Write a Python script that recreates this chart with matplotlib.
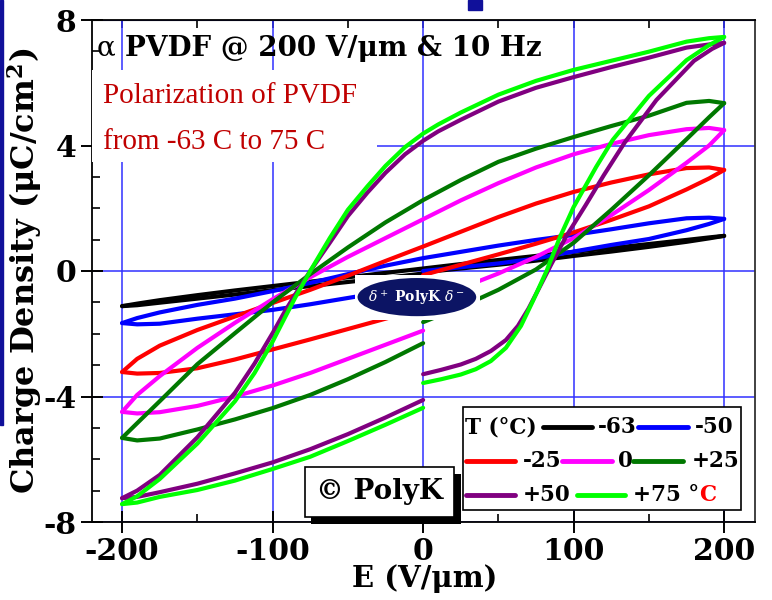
import matplotlib.pyplot as plt
from matplotlib.patches import Rectangle, Ellipse
from matplotlib.ticker import MultipleLocator

plt.rcParams['font.family'] = 'DejaVu Serif'
plt.rcParams['mathtext.fontset'] = 'dejavuserif'
plt.rcParams['axes.unicode_minus'] = False

# field values (V/um) for each branch
x_up = [200, 190, 175, 150, 125, 100, 75, 50, 25, 0, -25, -50, -75, -100, -125, -150, -175, -190, -200]
x_ll = [-200, -190, -175, -150, -125, -100, -75, -50, -25, 0]
x_lr = [0, 25, 50, 75, 100, 125, 150, 175, 190, 200]
x_up_hi = [200, 190, 175, 150, 125, 100, 75, 50, 25, 10, 0, -12, -25, -37, -50, -62, -75, -85, -92, -100, -112, -125, -150, -175, -190, -200]
x_p50_lr = [0, 12, 25, 35, 45, 55, 63, 70, 77, 85, 95, 108, 120, 134, 155, 180, 192, 200]
x_p75_lr = [0, 12, 25, 35, 45, 55, 65, 73, 82, 91, 100, 115, 126, 150, 175, 190, 200]

# charge density (uC/cm2): up = field going down, ll/lr = field going up (left / right of 0)
m63_up = [1.12, 1.07, 0.99, 0.86, 0.73, 0.61, 0.48, 0.35, 0.22, 0.08, -0.06, -0.2, -0.34, -0.48, -0.62, -0.77, -0.93, -1.04, -1.12]
m63_ll = [-1.12, -1.09, -1.01, -0.88, -0.75, -0.61, -0.48, -0.35, -0.22, -0.08]
m63_lr = [-0.04, 0.08, 0.2, 0.33, 0.48, 0.62, 0.77, 0.93, 1.04, 1.12]

m50_up = [1.66, 1.70, 1.68, 1.52, 1.33, 1.15, 0.99, 0.81, 0.61, 0.41, 0.17, -0.1, -0.38, -0.64, -0.88, -1.08, -1.32, -1.5, -1.66]
m50_ll = [-1.66, -1.70, -1.68, -1.52, -1.38, -1.24, -1.06, -0.86, -0.66, -0.45]
m50_lr = [0.0, 0.12, 0.24, 0.4, 0.62, 0.83, 1.02, 1.3, 1.5, 1.66]

m25_up = [3.22, 3.3, 3.28, 3.08, 2.82, 2.52, 2.15, 1.72, 1.25, 0.78, 0.32, -0.15, -0.6, -1.02, -1.45, -1.88, -2.38, -2.8, -3.22]
m25_ll = [-3.22, -3.27, -3.25, -3.1, -2.82, -2.5, -2.18, -1.85, -1.52, -1.2]
m25_lr = [-0.13, 0.2, 0.53, 0.87, 1.23, 1.63, 2.06, 2.6, 2.95, 3.22]

z_up = [4.49, 4.56, 4.52, 4.33, 4.05, 3.72, 3.3, 2.8, 2.25, 1.65, 1.05, 0.45, -0.2, -0.9, -1.65, -2.45, -3.35, -3.95, -4.49]
z_ll = [-4.49, -4.54, -4.5, -4.3, -4.0, -3.65, -3.25, -2.8, -2.35, -1.9]
z_lr = [-1.0, -0.55, -0.08, 0.45, 1.05, 1.78, 2.58, 3.45, 4.0, 4.49]

p25_up = [5.35, 5.42, 5.36, 4.95, 4.62, 4.27, 3.9, 3.48, 2.9, 2.26, 1.55, 0.75, -0.1, -1.0, -1.98, -2.97, -4.15, -4.85, -5.32]
p25_ll = [-5.32, -5.4, -5.34, -5.05, -4.73, -4.37, -3.95, -3.45, -2.9, -2.3]
p25_lr = [-1.63, -1.15, -0.6, 0.05, 0.9, 1.95, 3.05, 4.2, 4.9, 5.35]

p50_up = [7.27, 7.22, 7.12, 6.8, 6.5, 6.18, 5.84, 5.4, 4.82, 4.45, 4.15, 3.72, 3.13, 2.5, 1.75, 0.9, 0.0, -0.75, -1.3, -1.98, -2.95, -3.88, -5.3, -6.5, -7.0, -7.24]
p50_ll = [-7.24, -7.2, -7.05, -6.78, -6.45, -6.1, -5.68, -5.2, -4.67, -4.11]
p50_lr = [-3.29, -3.15, -2.98, -2.8, -2.55, -2.2, -1.75, -1.2, -0.55, 0.2, 1.1, 2.1, 3.05, 4.1, 5.45, 6.7, 7.08, 7.27]

p75_up = [7.46, 7.42, 7.31, 6.99, 6.7, 6.41, 6.06, 5.62, 5.05, 4.67, 4.38, 3.95, 3.35, 2.7, 1.95, 1.05, 0.0, -0.85, -1.5, -2.25, -3.25, -4.15, -5.5, -6.63, -7.18, -7.43]
p75_ll = [-7.43, -7.38, -7.2, -6.98, -6.68, -6.31, -5.92, -5.42, -4.9, -4.36]
p75_lr = [-3.57, -3.45, -3.3, -3.13, -2.87, -2.45, -1.75, -0.95, 0.0, 1.09, 2.04, 3.32, 4.18, 5.58, 6.72, 7.2, 7.46]

temps = ['-63', '-50', '-25', '0', '+25', '+50', '+75']
colors = ['black', '#0000ff', '#ff0000', '#ff00ff', '#007800', '#800080', '#00ff00']
up_x = [x_up, x_up, x_up, x_up, x_up, x_up_hi, x_up_hi]
up_y = [m63_up, m50_up, m25_up, z_up, p25_up, p50_up, p75_up]
ll_y = [m63_ll, m50_ll, m25_ll, z_ll, p25_ll, p50_ll, p75_ll]
lr_x = [x_lr, x_lr, x_lr, x_lr, x_lr, x_p50_lr, x_p75_lr]
lr_y = [m63_lr, m50_lr, m25_lr, z_lr, p25_lr, p50_lr, p75_lr]

fig = plt.figure(figsize=(7.72, 6.0), dpi=100)
ax = fig.add_axes([92 / 772, 78 / 600, 663 / 772, 502 / 600])

for i in range(len(temps)):
    c = colors[i]
    ax.plot(up_x[i], up_y[i], color=c, lw=3, solid_capstyle='round',
            solid_joinstyle='round', zorder=3)
    ax.plot(x_ll, ll_y[i], color=c, lw=3, solid_capstyle='round',
            solid_joinstyle='round', zorder=3)
    ax.plot(lr_x[i], lr_y[i], color=c, lw=3, solid_capstyle='round',
            solid_joinstyle='round', zorder=3)

ax.set_xlim(-220, 220.5)
ax.set_ylim(-8, 8)
ax.xaxis.set_major_locator(MultipleLocator(100))
ax.xaxis.set_minor_locator(MultipleLocator(50))
ax.yaxis.set_major_locator(MultipleLocator(4))
ax.yaxis.set_minor_locator(MultipleLocator(1))
ax.grid(True, which='major', color='#3030ff', lw=1.1, zorder=1)
ax.set_axisbelow(True)
ax.tick_params(which='major', direction='inout', length=16, width=1.4,
               labelsize=21.5, pad=3)
ax.tick_params(which='minor', direction='in', length=6, width=1.2)
for lab in ax.get_xticklabels() + ax.get_yticklabels():
    lab.set_fontweight('bold')
for s in ax.spines.values():
    s.set_linewidth(1.3)
ax.spines['right'].set_color('#333333')

top = ax.secondary_xaxis('top')
top.xaxis.set_major_locator(MultipleLocator(100))
top.xaxis.set_minor_locator(MultipleLocator(50))
top.tick_params(which='both', direction='in', labeltop=False, length=6, width=1.2)

ax.set_xlabel('E (V/μm)', fontsize=21, fontweight='bold')
ax.xaxis.set_label_coords(0.502, -0.083)
ax.set_ylabel('Charge Density (μC/cm$^{\\mathbf{2}}$)', fontsize=23, fontweight='bold')
ax.yaxis.set_label_coords(-0.073, 0.5)

# title inside plot
t = ax.text(0.008, 0.944, 'α ', transform=ax.transAxes, fontsize=20,
            va='center', ha='left')
ax.annotate('PVDF @ 200 V/μm & 10 Hz', xy=(1, 0), xycoords=t, fontsize=20,
            fontweight='bold', va='bottom', ha='left')

# red note with white background
ax.add_patch(Rectangle((0, 0.717), 0.43, 0.183, transform=ax.transAxes,
                       facecolor='white', edgecolor='none', zorder=4))
ax.text(0.017, 0.849, 'Polarization of PVDF', transform=ax.transAxes,
        fontsize=21, color='#c00000', family='Liberation Serif', va='center', zorder=5)
ax.text(0.017, 0.756, 'from -63 C to 75 C', transform=ax.transAxes,
        fontsize=21, color='#c00000', family='Liberation Serif', va='center', zorder=5)

# logo
ax.add_patch(Rectangle((0.397, 0.402), 0.188, 0.090, transform=ax.transAxes,
                       facecolor='white', edgecolor='none', zorder=4))
ax.add_patch(Ellipse((0.490, 0.448), 0.179, 0.076, transform=ax.transAxes,
                     facecolor='#0c1464', edgecolor='none', zorder=5))
ax.text(0.490, 0.448, '$\\delta^+$ PolyK $\\delta^-$', transform=ax.transAxes,
        color='white', fontsize=10, fontweight='bold', ha='center', va='center', zorder=6)

# copyright box with shadow
ax.add_patch(Rectangle((0.331, -0.004), 0.225, 0.1, transform=ax.transAxes,
                       facecolor='black', edgecolor='none', zorder=6, clip_on=False))
ax.add_patch(Rectangle((0.321, 0.010), 0.225, 0.1, transform=ax.transAxes,
                       facecolor='white', edgecolor='black', lw=1.2, zorder=7))
ax.text(0.434, 0.060, '© PolyK', transform=ax.transAxes, fontsize=20,
        fontweight='bold', ha='center', va='center', zorder=8)

# hand-made legend
ax.add_patch(Rectangle((0.5596, 0.024), 0.4193, 0.205, transform=ax.transAxes,
                       facecolor='white', edgecolor='black', lw=1.2, zorder=6))
leg_rows = [0.189, 0.1215, 0.054]
leg_pos = [(0, 0.680, 0.754, 0.763), (0, 0.8235, 0.899, 0.9095),
           (1, 0.564, 0.638, 0.650), (1, 0.709, 0.784, 0.793), (1, 0.816, 0.891, 0.905),
           (2, 0.564, 0.638, 0.650), (2, 0.7315, 0.804, 0.816)]
ax.text(0.5626, leg_rows[0], 'T (°C)', transform=ax.transAxes, fontsize=15.5,
        fontweight='bold', va='center', zorder=7)
for i in range(len(temps)):
    r, x0, x1, xt = leg_pos[i]
    y = leg_rows[r]
    ax.plot([x0, x1], [y, y], color=colors[i], lw=3.5, solid_capstyle='round',
            transform=ax.transAxes, zorder=7)
    lab = temps[i] + (' °' if i == len(temps) - 1 else '')
    tt = ax.text(xt, y, lab, transform=ax.transAxes, fontsize=15.5,
                 fontweight='bold', va='center', zorder=7)
    if i == len(temps) - 1:
        ax.annotate('C', xy=(1, 0), xycoords=tt, fontsize=15.5, fontweight='bold',
                    color='red', va='bottom', ha='left', zorder=7)

# slide remnants at the edge
fig.add_artist(Rectangle((0, 1 - 425 / 600), 3 / 772, 425 / 600,
                         transform=fig.transFigure, color='#10109a'))
fig.add_artist(Rectangle((468 / 772, 1 - 10 / 600), 14 / 772, 10 / 600,
                         transform=fig.transFigure, color='#10109a'))

fig.savefig('out.png', dpi=100)
